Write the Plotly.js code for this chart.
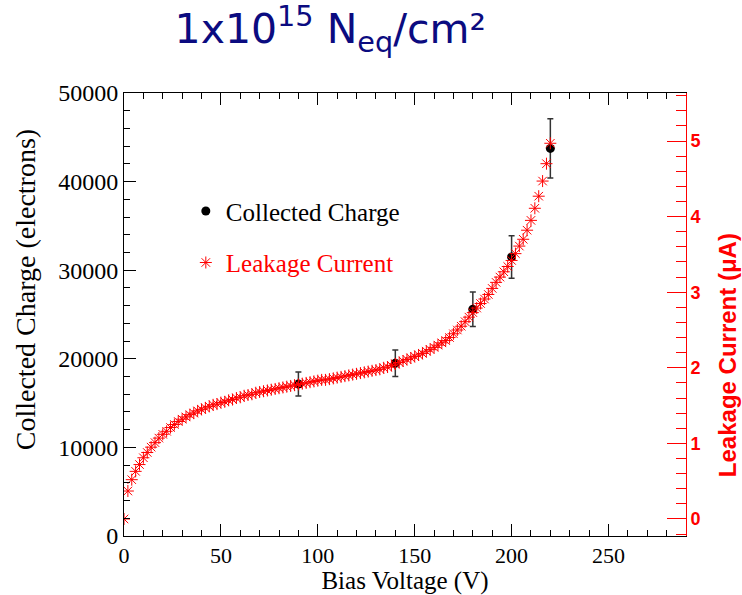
<!DOCTYPE html>
<html>
<head>
<meta charset="utf-8">
<script src="https://cdn.plot.ly/plotly-3.0.1.min.js"></script>
<style>html,body{margin:0;padding:0;background:#fff;}#chart{width:742px;height:595px;}</style>
</head>
<body>
<div id="chart"></div>
<script>
// Leakage current scan (V, uA)
const leakVoltage = [0,2,4,6,8,10,12,14,16,18,20,22,24,26,28,30,32,34,36,38,40,42,44,46,48,50,
  52,54,56,58,60,62,64,66,68,70,72,74,76,78,80,82,84,86,88,90,92,94,96,98,100,
  102,104,106,108,110,112,114,116,118,120,122,124,126,128,130,132,134,136,138,140,
  142,144,146,148,150,152,154,156,158,160,162,164,166,168,170,172,174,176,178,180,
  182,184,186,188,190,192,194,196,198,200,202,204,206,208,210,212,214,216,218,220];
const leakCurrent = [0.00,0.37,0.52,0.63,0.72,0.81,0.88,0.95,1.01,1.07,1.12,1.16,1.21,1.25,1.29,1.32,1.35,1.38,1.40,1.43,1.45,1.47,1.49,1.51,1.52,1.54,
  1.55,1.57,1.58,1.60,1.61,1.63,1.64,1.65,1.67,1.68,1.69,1.70,1.71,1.72,1.73,1.74,1.75,1.76,1.77,1.78,1.79,1.80,1.81,1.82,1.83,
  1.84,1.84,1.85,1.86,1.87,1.88,1.89,1.90,1.91,1.92,1.93,1.94,1.95,1.96,1.97,1.98,2.00,2.01,2.03,2.05,
  2.07,2.09,2.11,2.13,2.15,2.17,2.19,2.22,2.24,2.27,2.30,2.33,2.36,2.40,2.45,2.50,2.55,2.61,2.67,2.73,
  2.79,2.85,2.91,2.97,3.05,3.13,3.20,3.27,3.34,3.42,3.51,3.61,3.70,3.82,3.95,4.11,4.27,4.47,4.70,4.97];

// Collected charge (V, electrons, error)
const chargeVoltage = [90,140,180,200,220];
const chargeValue = [17150,19500,25600,31500,43750];
const chargeError = [1350,1500,1950,2400,3350];

const serif = "Liberation Serif, Times New Roman, serif";
const sans = "Liberation Sans, Arial, sans-serif";

const traces = [
  {
    x: leakVoltage, y: leakCurrent, yaxis: 'y2', type: 'scatter', mode: 'markers',
    name: "<span style='color:#ff0000'>Leakage Current</span>",
    legendgroup: 'leak', legendrank: 2,
    marker: {symbol: 'asterisk-open', size: 10, color: '#ff0000', line: {color: '#ff0000', width: 1}}
  },
  {
    x: chargeVoltage, y: chargeValue, type: 'scatter', mode: 'markers',
    name: 'Collected Charge',
    legendgroup: 'charge', legendrank: 1,
    marker: {symbol: 'circle', size: 9, color: '#000000'},
    error_y: {type: 'data', array: chargeError, visible: true, color: '#333333', thickness: 1.5, width: 3}
  }
];

const layout = {
  width: 742, height: 595,
  paper_bgcolor: '#ffffff', plot_bgcolor: '#ffffff',
  margin: {l: 124, r: 56, t: 93, b: 59},
  showlegend: true,
  title: {
    text: '1x10<sup>15</sup> N<sub>eq</sub>/cm²',
    font: {family: 'DejaVu Sans, sans-serif', size: 41, color: '#0b0b80'},
    xref: 'paper', x: 0.367, xanchor: 'center',
    yref: 'container', y: 0.952, yanchor: 'middle'
  },
  legend: {
    x: 0.11, y: 0.785, xanchor: 'left', yanchor: 'top',
    bgcolor: 'rgba(0,0,0,0)', borderwidth: 0,
    font: {family: serif, size: 25, color: '#000000'},
    traceorder: 'grouped', tracegroupgap: 16, itemwidth: 30
  },
  xaxis: {
    range: [0, 290], tick0: 0, dtick: 50,
    ticks: 'inside', ticklen: 12, tickwidth: 1, tickcolor: '#000',
    minor: {dtick: 10, ticks: 'inside', ticklen: 6, tickcolor: '#000', showgrid: false},
    showline: true, linecolor: '#000', linewidth: 1, mirror: 'ticks',
    showgrid: false, zeroline: false,
    tickfont: {family: serif, size: 22, color: '#000'},
    title: {text: 'Bias Voltage (V)', font: {family: serif, size: 25, color: '#000'}, standoff: 3}
  },
  yaxis: {
    range: [0, 50000], tick0: 0, dtick: 10000, tickformat: 'd',
    ticks: 'inside', ticklen: 12, tickwidth: 1, tickcolor: '#000',
    minor: {dtick: 2000, ticks: 'inside', ticklen: 6, tickcolor: '#000', showgrid: false},
    showline: true, linecolor: '#000', linewidth: 1, mirror: false,
    showgrid: false, zeroline: false,
    tickfont: {family: serif, size: 24, color: '#000'}
  },
  yaxis2: {
    overlaying: 'y', side: 'right', anchor: 'x',
    range: [-0.225, 5.635], tick0: 0, dtick: 1,
    ticks: 'inside', ticklen: 19, tickwidth: 1, tickcolor: '#ff0000',
    minor: {dtick: 0.2, ticks: 'inside', ticklen: 10, tickcolor: '#ff0000', showgrid: false},
    showline: true, linecolor: '#ff0000', linewidth: 1,
    showgrid: false, zeroline: false,
    tickfont: {family: sans, size: 18, color: '#ff0000', weight: 'bold'}
  },
  annotations: [
    {
      text: 'Collected Charge (electrons)', textangle: -90, showarrow: false,
      xref: 'paper', yref: 'paper', x: -0.176, y: 0.555, xanchor: 'center', yanchor: 'middle',
      font: {family: serif, size: 28, color: '#000'}
    },
    {
      text: 'Leakage Current (μA)', textangle: -90, showarrow: false,
      xref: 'paper', yref: 'paper', x: 1.075, y: 0.4086, xanchor: 'center', yanchor: 'middle',
      font: {family: sans, size: 24, color: '#ff0000', weight: 'bold'}
    }
  ]
};

Plotly.newPlot('chart', traces, layout, {displayModeBar: false, staticPlot: true});
</script>
</body>
</html>
